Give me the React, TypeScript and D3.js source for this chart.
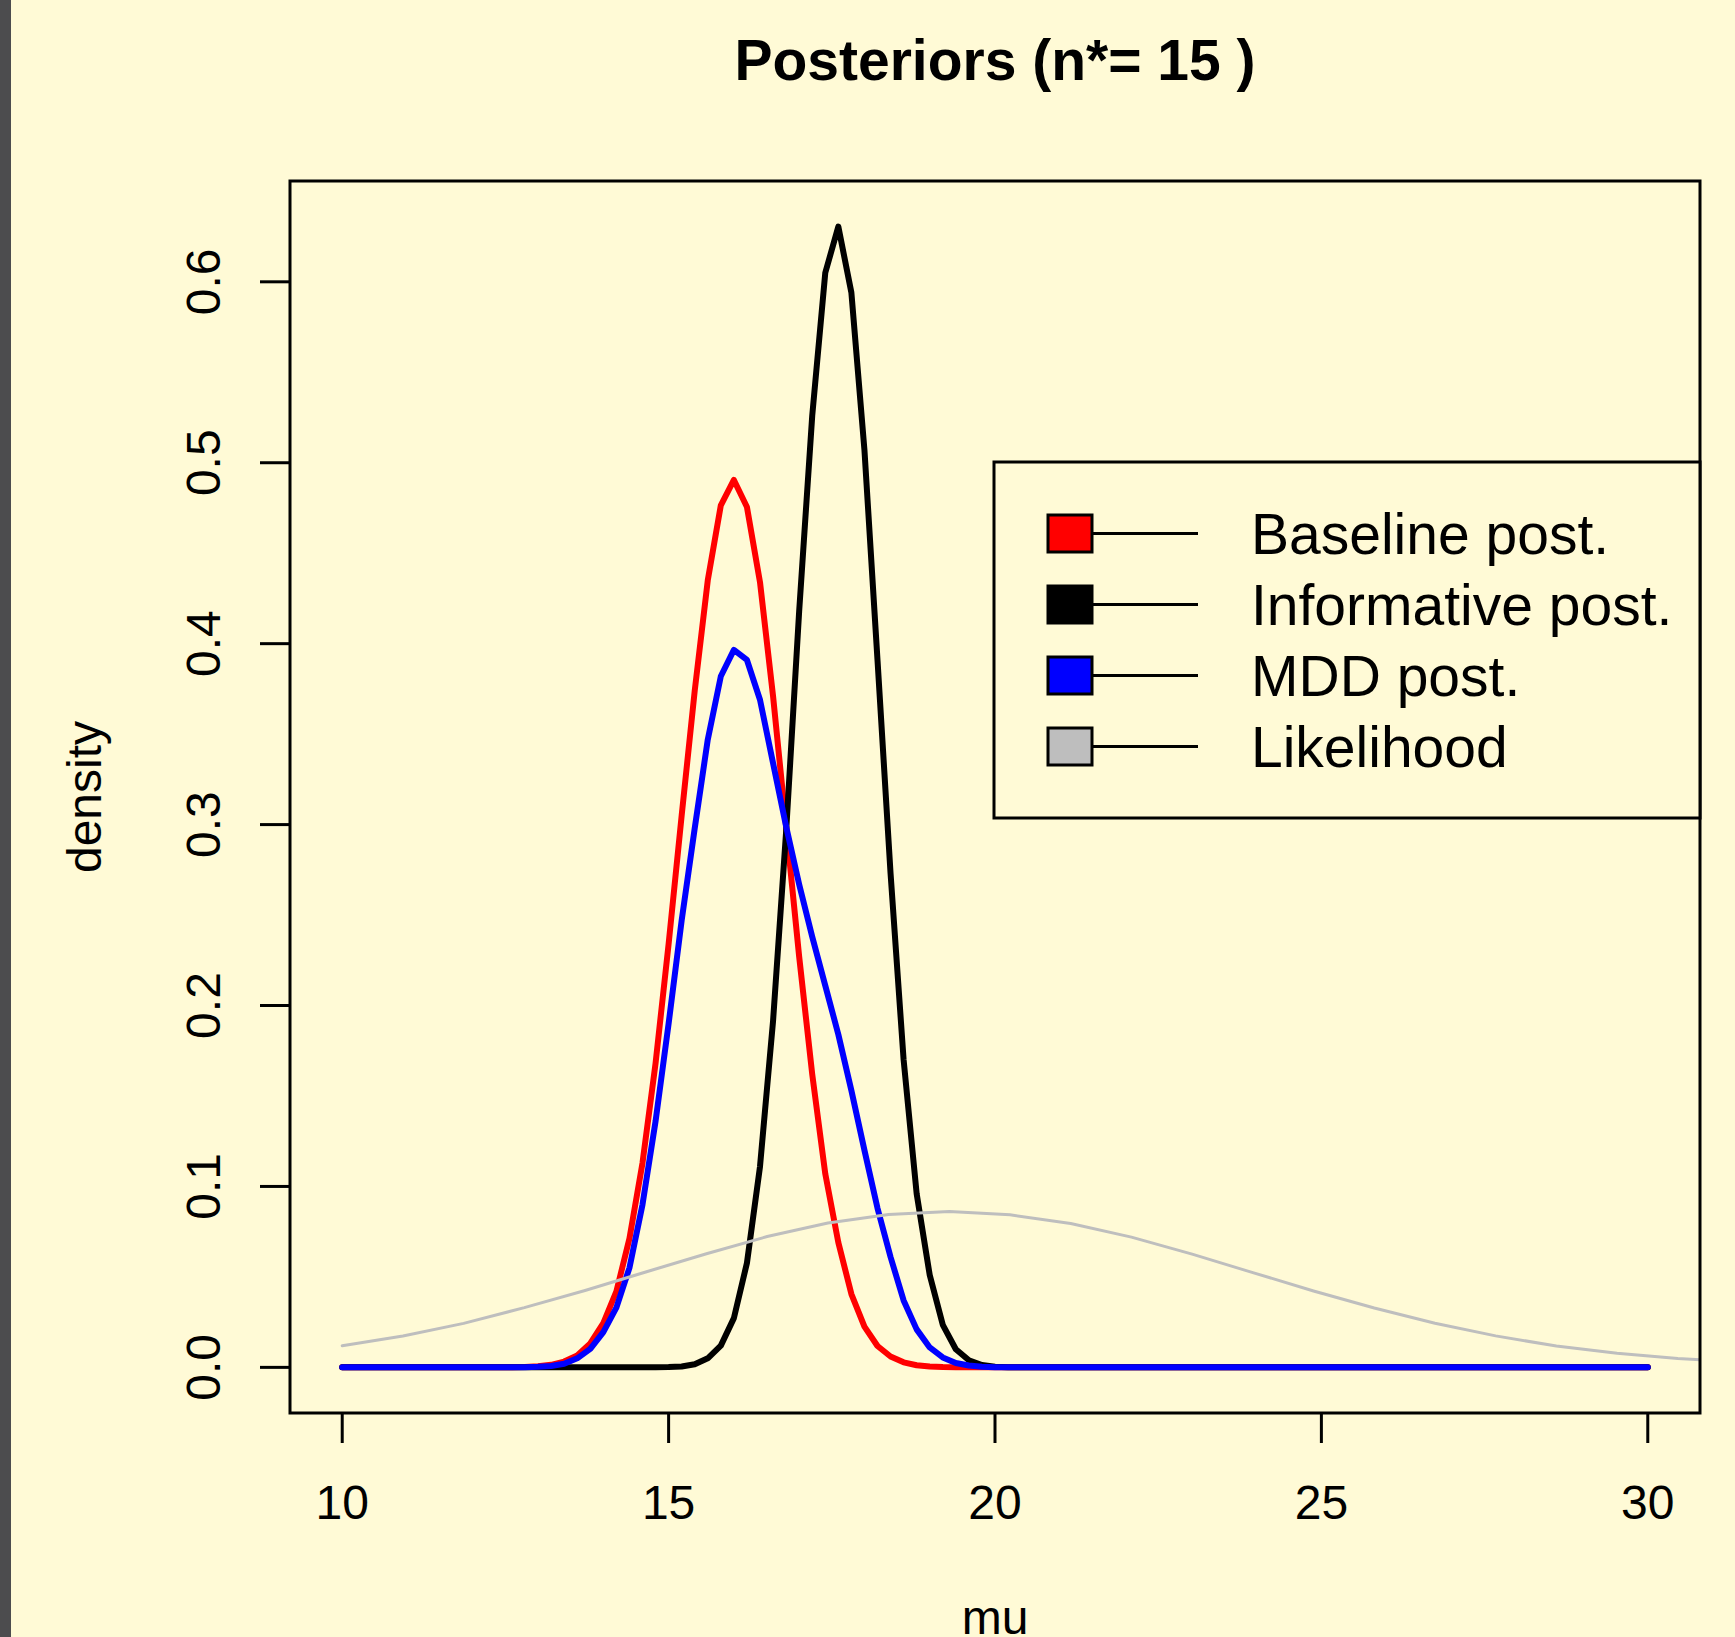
import React from "react";
import * as d3 from "d3";

const W = 1735;
const H = 1637;

const titleText = "Posteriors (n*= 15 )";
const xLabel = "mu";
const yLabel = "density";
const xTicks = [10, 15, 20, 25, 30];
const yTicks = [0, 0.1, 0.2, 0.3, 0.4, 0.5, 0.6];

// mu grid of the posterior curves: 10, 10.2, ..., 30
const muGrid = d3.range(101).map((i) => +(10 + i * 0.2).toFixed(1));

const baselinePost = [
  0, 0, 0, 0, 0, 0, 0, 0, 0, 0,
  0, 0, 0.00003, 0.00008, 0.0002, 0.0006, 0.0014, 0.0032, 0.0066, 0.0132,
  0.0245, 0.042, 0.0712, 0.113, 0.168, 0.234, 0.305, 0.374, 0.435, 0.4765,
  0.4905, 0.4755, 0.434, 0.371, 0.299, 0.227, 0.162, 0.107, 0.069, 0.0405,
  0.0225, 0.0118, 0.006, 0.0028, 0.0012, 0.0005, 0.0002, 0.00007, 0.00002, 0,
  0, 0, 0, 0, 0, 0, 0, 0, 0, 0,
  0, 0, 0, 0, 0, 0, 0, 0, 0, 0,
  0, 0, 0, 0, 0, 0, 0, 0, 0, 0,
  0, 0, 0, 0, 0, 0, 0, 0, 0, 0,
  0, 0, 0, 0, 0, 0, 0, 0, 0, 0,
  0,
];

const informativePost = [
  0, 0, 0, 0, 0, 0, 0, 0, 0, 0,
  0, 0, 0, 0, 0, 0, 0, 0, 0, 0,
  0, 0, 0, 0, 0.00004, 0.00015, 0.0005, 0.0017, 0.005, 0.012,
  0.0272, 0.0577, 0.111, 0.1915, 0.296, 0.418, 0.526, 0.605, 0.6305, 0.594,
  0.507, 0.391, 0.273, 0.17, 0.096, 0.051, 0.0235, 0.01, 0.0039, 0.0013,
  0.0004, 0.0001, 0.00003, 0, 0, 0, 0, 0, 0, 0,
  0, 0, 0, 0, 0, 0, 0, 0, 0, 0,
  0, 0, 0, 0, 0, 0, 0, 0, 0, 0,
  0, 0, 0, 0, 0, 0, 0, 0, 0, 0,
  0, 0, 0, 0, 0, 0, 0, 0, 0, 0,
  0,
];

const mddPost = [
  0, 0, 0, 0, 0, 0, 0, 0, 0, 0,
  0, 0, 0, 0.00005, 0.00012, 0.0003, 0.0008, 0.002, 0.005, 0.0102,
  0.0195, 0.033, 0.055, 0.09, 0.136, 0.19, 0.247, 0.298, 0.347, 0.382,
  0.3966, 0.391, 0.369, 0.334, 0.299, 0.267, 0.238, 0.211, 0.184, 0.153,
  0.12, 0.088, 0.061, 0.037, 0.021, 0.011, 0.0055, 0.0024, 0.001, 0.0004,
  0.0001, 0, 0, 0, 0, 0, 0, 0, 0, 0,
  0, 0, 0, 0, 0, 0, 0, 0, 0, 0,
  0, 0, 0, 0, 0, 0, 0, 0, 0, 0,
  0, 0, 0, 0, 0, 0, 0, 0, 0, 0,
  0, 0, 0, 0, 0, 0, 0, 0, 0, 0,
  0,
];

const likelihoodMu = [
  10.0, 10.93, 11.86, 12.79, 13.72, 14.65, 15.58, 16.51, 17.44, 18.37, 19.3, 20.23,
  21.16, 22.09, 23.02, 23.95, 24.88, 25.81, 26.74, 27.67, 28.6, 29.53, 30.46, 31.39,
];
const likelihoodVal = [
  0.012, 0.0173, 0.0243, 0.033, 0.0425, 0.0527, 0.0628, 0.0723, 0.0798, 0.0845, 0.0862, 0.0843,
  0.0795, 0.072, 0.0626, 0.0524, 0.0422, 0.0328, 0.0244, 0.0174, 0.0118, 0.0078, 0.0049, 0.003,
];

const legendLabels = ["Baseline post.", "Informative post.", "MDD post.", "Likelihood"];
const legendColors = ["#FF0000", "#000000", "#0000FF", "#BEBEBE"];

const BG = "#FFFAD6";
const FONT = "'Liberation Sans', Arial, Helvetica, sans-serif";

export default function App() {
  const left = 290, right = 1700, top = 181, bottom = 1413;
  const x = d3.scaleLinear().domain([9.2, 30.8]).range([left, right]);
  const y = d3.scaleLinear().domain([-0.02522, 0.65572]).range([bottom, top]);

  const line = d3
    .line<[number, number]>()
    .x((d) => x(d[0]))
    .y((d) => y(d[1]));

  const series = [
    { vals: baselinePost, mu: muGrid, color: legendColors[0], w: 6 },
    { vals: informativePost, mu: muGrid, color: legendColors[1], w: 6 },
    { vals: mddPost, mu: muGrid, color: legendColors[2], w: 6 },
    { vals: likelihoodVal, mu: likelihoodMu, color: legendColors[3], w: 3 },
  ];

  const legendRowY = [533.5, 604.5, 675.5, 746.5];

  return (
    <div style={{ position: "absolute", left: 0, top: 0, width: W, height: H }}>
      <svg width={W} height={H} viewBox={`0 0 ${W} ${H}`} style={{ display: "block" }}>
        <rect x={0} y={0} width={W} height={H} fill={BG} />
        <rect x={0} y={0} width={11} height={H} fill="#4C4C4E" />
        <defs>
          <clipPath id="plotClip">
            <rect x={left} y={top} width={right - left} height={bottom - top} />
          </clipPath>
        </defs>

        {/* title */}
        <text
          x={(left + right) / 2}
          y={80}
          textAnchor="middle"
          fontFamily={FONT}
          fontWeight="bold"
          fontSize={57}
          fill="#000"
        >
          {titleText}
        </text>

        {/* curves */}
        <g clipPath="url(#plotClip)">
          {series.map((s, k) => (
            <path
              key={k}
              d={line(s.mu.map((m, i) => [m, s.vals[i]] as [number, number])) || ""}
              fill="none"
              stroke={s.color}
              strokeWidth={s.w}
              strokeLinejoin="round"
              strokeLinecap="round"
            />
          ))}
        </g>

        {/* box */}
        <rect
          x={left}
          y={top}
          width={right - left}
          height={bottom - top}
          fill="none"
          stroke="#000"
          strokeWidth={3}
        />

        {/* x axis */}
        {xTicks.map((t) => (
          <g key={"x" + t}>
            <line x1={x(t)} x2={x(t)} y1={bottom} y2={bottom + 30} stroke="#000" strokeWidth={3} />
            <text
              x={x(t)}
              y={1519}
              textAnchor="middle"
              fontFamily={FONT}
              fontSize={48}
              fill="#000"
            >
              {t}
            </text>
          </g>
        ))}
        <text x={(left + right) / 2} y={1634} textAnchor="middle" fontFamily={FONT} fontSize={48} fill="#000">
          {xLabel}
        </text>

        {/* y axis */}
        {yTicks.map((t) => (
          <g key={"y" + t}>
            <line x1={left - 30} x2={left} y1={y(t)} y2={y(t)} stroke="#000" strokeWidth={3} />
            <text
              transform={`translate(220, ${y(t)}) rotate(-90)`}
              textAnchor="middle"
              fontFamily={FONT}
              fontSize={48}
              fill="#000"
            >
              {t.toFixed(1)}
            </text>
          </g>
        ))}
        <text
          transform={`translate(101, ${(top + bottom) / 2}) rotate(-90)`}
          textAnchor="middle"
          fontFamily={FONT}
          fontSize={48}
          fill="#000"
        >
          {yLabel}
        </text>

        {/* legend */}
        <rect x={994} y={462} width={right - 994} height={818 - 462} fill={BG} stroke="#000" strokeWidth={3} />
        {legendLabels.map((lab, i) => (
          <g key={lab}>
            <line x1={1092} x2={1198} y1={legendRowY[i]} y2={legendRowY[i]} stroke="#000" strokeWidth={3} />
            <rect
              x={1048}
              y={legendRowY[i] - 18.5}
              width={44}
              height={37}
              fill={legendColors[i]}
              stroke="#000"
              strokeWidth={3}
            />
            <text
              x={1251}
              y={legendRowY[i] + 20}
              fontFamily={FONT}
              fontSize={57}
              fill="#000"
            >
              {lab}
            </text>
          </g>
        ))}
      </svg>
    </div>
  );
}
